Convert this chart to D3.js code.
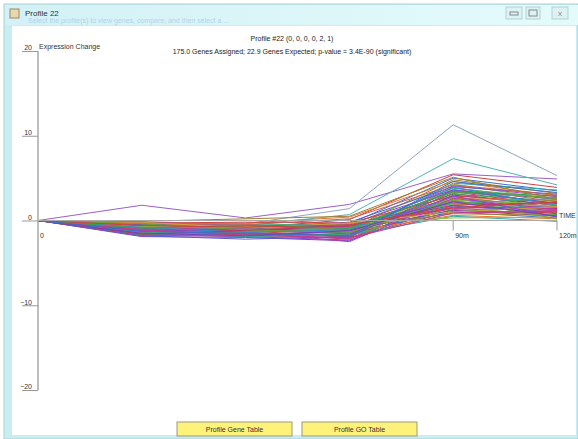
<!DOCTYPE html>
<html>
<head>
<meta charset="utf-8">
<script src="https://cdn.jsdelivr.net/npm/d3@7/dist/d3.min.js"></script>
<style>
  body { margin: 0; background: #fff; }
  svg { display: block; font-family: "Liberation Sans", "DejaVu Sans", sans-serif; }
</style>
</head>
<body>
<div id="chart"></div>
<script>
// time points of the profile (only some are labelled in the window)
const timeLabels = ["0", "", "", "", "90m", "120m"];
const yTicks = [-20, -10, 0, 10, 20];

// expression change of each gene at each time point
const genes = [
    [0, 1.8, 0.3, 1.9, 5.5, 4.9],
    [0, -0.2, -0.4, 1.4, 11.3, 5.3],
    [0, -0.3, -0.6, 0.7, 7.3, 4.2],
    [0, -0.6, -0.9, 0.1, 5.4, 3.9],
    [0, -0.8, -1.1, -0.4, 5.0, 3.5],
    [0, -1.2, -1.4, -1.0, 4.8, 3.2],
    [0, -0.5, -0.3, 0.4, 4.6, 2.9],
    [0, -1.5, -1.7, -1.8, 4.4, 3.6],
    [0, -0.9, -1.0, -0.6, 4.3, 2.4],
    [0, -1.1, -1.6, -1.3, 4.1, 2.8],
    [0, -0.4, -0.8, -0.2, 4.0, 3.1],
    [0, -1.7, -1.9, -2.0, 3.9, 2.2],
    [0, -0.7, -0.5, -0.9, 3.8, 2.6],
    [0, -1.3, -1.2, -1.5, 3.7, 1.9],
    [0, -0.2, -0.6, -0.4, 3.6, 2.5],
    [0, -1.0, -1.3, -1.1, 3.5, 2.0],
    [0, -1.6, -1.5, -2.2, 3.4, 1.7],
    [0, -0.6, -1.0, -0.7, 3.3, 2.7],
    [0, -1.4, -1.8, -1.6, 3.2, 1.5],
    [0, -0.8, -0.7, -1.2, 3.1, 2.3],
    [0, -1.9, -2.0, -2.4, 3.0, 1.8],
    [0, -0.3, -0.2, -0.3, 2.9, 2.1],
    [0, -1.2, -1.5, -1.9, 2.8, 1.4],
    [0, -0.9, -1.2, -0.8, 2.7, 1.6],
    [0, -1.5, -1.1, -1.4, 2.6, 2.4],
    [0, -0.5, -0.9, -1.0, 2.5, 1.2],
    [0, -1.1, -1.4, -1.7, 2.4, 1.9],
    [0, -1.8, -1.6, -2.1, 2.3, 1.1],
    [0, -0.7, -1.1, -0.5, 2.2, 1.5],
    [0, -1.3, -1.7, -1.3, 2.1, 0.9],
    [0, -0.4, -0.4, -0.6, 2.0, 1.3],
    [0, -1.0, -0.8, -1.5, 1.9, 1.7],
    [0, -1.6, -1.9, -2.3, 1.8, 0.8],
    [0, -0.6, -1.3, -0.9, 1.7, 1.0],
    [0, -1.4, -1.0, -1.2, 1.6, 1.4],
    [0, -0.8, -1.5, -1.8, 1.5, 0.6],
    [0, -1.2, -0.6, -0.7, 1.4, 1.2],
    [0, -1.7, -1.8, -1.6, 1.3, 0.7],
    [0, -0.5, -1.0, -1.1, 1.2, 0.5],
    [0, -1.1, -1.2, -2.0, 1.1, 0.9],
    [0, -0.9, -1.6, -1.4, 1.0, 0.3],
    [0, -1.5, -1.4, -0.8, 0.8, 0.6],
    [0, -0.3, -0.7, -1.3, 0.6, 0.2],
    [0, -1.3, -1.9, -1.7, 0.5, -0.1],
    [0, -0.7, -0.9, -0.4, 0.3, 0.4],
    [0, -1.0, -1.3, -2.5, 2.6, 1.3],
    [0, -1.8, -2.2, -1.9, 3.6, 2.0],
    [0, -0.6, -0.5, 0.2, 4.2, 3.0],
    [0, -1.4, -1.3, -1.0, 2.0, 2.6],
    [0, -0.2, -0.9, -0.3, 1.0, 1.6],
    [0, -1.2, -1.0, -1.6, 2.9, 0.4],
    [0, -0.8, -1.4, -1.1, 3.9, 1.8],
    [0, -1.6, -1.2, -0.6, 1.8, 2.1],
    [0, -0.4, -1.1, -1.4, 2.4, 0.2],
    [0, -1.1, -1.7, -2.1, 0.9, 1.1],
    [0, -0.9, -0.6, -0.9, 3.4, 2.9],
    [0, -1.5, -1.8, -1.2, 2.2, 0.5],
    [0, -0.6, -0.8, -0.5, 1.5, 2.2],
    [0, -1.3, -1.5, -1.8, 4.6, 3.3],
    [0, -0.1, 0.2, 0.5, 5.1, 2.5]
];

const topColors = ["#9a5fc8", "#8fa3c4", "#4fb3b8"];
const colors = ["#c83a8c", "#3aa04a", "#7a3fc0", "#d04040", "#3a70c8", "#a08030",
    "#e07830", "#30a8a0", "#8cc040", "#b040b0", "#605ad0", "#c86060",
    "#40b070", "#d0a040", "#9040e0", "#2f8fcf", "#c03070", "#70a030"];

const title = "Profile #22 (0, 0, 0, 0, 2, 1)";
const subtitle = "175.0 Genes Assigned; 22.9 Genes Expected; p-value = 3.4E-90 (significant)";
const buttons = ["Profile Gene Table", "Profile GO Table"];

const W = 578, H = 439;
const svg = d3.select("#chart").append("svg")
    .attr("width", W)
    .attr("height", H);

// window frame
svg.append("rect").attr("x", 4).attr("y", 4).attr("width", W - 4).attr("height", H - 4)
    .attr("fill", "#c9eef1").attr("stroke", "#a9cfd6");
const grad = svg.append("defs").append("linearGradient").attr("id", "tb")
    .attr("x1", 0).attr("x2", 1);
grad.append("stop").attr("offset", "0%").attr("stop-color", "#d3f1f6");
grad.append("stop").attr("offset", "100%").attr("stop-color", "#e4fbfb");
svg.append("rect").attr("x", 5).attr("y", 5).attr("width", W - 5).attr("height", 20)
    .attr("fill", "url(#tb)");
svg.append("rect").attr("x", 12).attr("y", 26).attr("width", W - 14).attr("height", H - 30)
    .attr("fill", "#fff");

// title bar
svg.append("rect").attr("x", 10).attr("y", 9).attr("width", 9).attr("height", 9)
    .attr("fill", "#e8d8b0").attr("stroke", "#a08860");
svg.append("text").attr("x", 25).attr("y", 16).attr("font-size", 8).attr("fill", "#333")
    .text("Profile 22");
svg.append("text").attr("x", 28).attr("y", 23).attr("font-size", 7).attr("fill", "#9cc0e4")
    .attr("opacity", 0.6)
    .text("Select the profile(s) to view genes, compare, and then select a ...");
[[506, 16], [526, 14], [552, 16]].forEach(([bx, bw]) => {
    svg.append("rect").attr("x", bx).attr("y", 7).attr("width", bw).attr("height", 12)
        .attr("fill", "#dcf3f5").attr("stroke", "#b5cfd4");
});
svg.append("rect").attr("x", 510).attr("y", 12).attr("width", 8).attr("height", 3)
    .attr("fill", "none").attr("stroke", "#888");
svg.append("rect").attr("x", 529).attr("y", 10).attr("width", 8).attr("height", 6)
    .attr("fill", "none").attr("stroke", "#888");
svg.append("text").attr("x", 558).attr("y", 16).attr("font-size", 8).attr("fill", "#888").text("x");

// scales
const x = d3.scaleLinear().domain([0, timeLabels.length - 1]).range([38, 557]);
const y = d3.scaleLinear().domain([-20, 20]).range([390, 51]);

// titles
svg.append("text").attr("x", 292).attr("y", 41).attr("text-anchor", "middle")
    .attr("font-size", 7).attr("fill", "#222").text(title);
svg.append("text").attr("x", 292).attr("y", 54).attr("text-anchor", "middle")
    .attr("font-size", 7).attr("fill", "#222").text(subtitle);
svg.append("text").attr("x", 39).attr("y", 49).attr("font-size", 7).attr("fill", "#333")
    .text("Expression Change");

// gene lines
const line = d3.line()
    .x((d, i) => x(i))
    .y(d => y(d));

svg.append("g").selectAll("path")
    .data(genes)
    .join("path")
    .attr("d", line)
    .attr("fill", "none")
    .attr("stroke", (d, i) => i < topColors.length ? topColors[i] : colors[i % colors.length])
    .attr("stroke-width", 1);

// y axis
const yAxis = svg.append("g")
    .attr("transform", "translate(" + x(0) + ",0)")
    .call(d3.axisLeft(y).tickValues(yTicks).tickSize(16).tickFormat(d3.format("d")));
yAxis.select(".domain").attr("stroke", "#a8a8a8").attr("stroke-width", 1.5)
    .attr("d", "M0," + y(20) + "V" + y(-20));
yAxis.selectAll(".tick line").attr("stroke", "#999");
yAxis.selectAll(".tick text").attr("x", -6).attr("dy", "-0.15em")
    .attr("font-size", 7).attr("fill", "#333");

// x axis (time)
svg.append("line").attr("x1", x(0)).attr("x2", x(timeLabels.length - 1))
    .attr("y1", y(0)).attr("y2", y(0)).attr("stroke", "#a8a8a8").attr("stroke-width", 1.2);
const xt = svg.append("g").selectAll("g")
    .data(timeLabels.map((t, i) => ({ t, i })).filter(d => d.t !== ""))
    .join("g")
    .attr("transform", d => "translate(" + x(d.i) + "," + y(0) + ")");
xt.filter(d => d.i > 0).append("line").attr("y2", 10).attr("stroke", "#999");
xt.append("text").attr("x", 2).attr("y", 17).attr("font-size", 7).attr("fill", "#333")
    .text(d => d.t);
svg.append("text").attr("x", 559).attr("y", y(0) - 3).attr("font-size", 7).attr("fill", "#333")
    .text("TIME");

// buttons
const bg = svg.append("g").selectAll("g")
    .data(buttons)
    .join("g")
    .attr("transform", (d, i) => "translate(" + (177 + i * 125) + ",422)");
bg.append("rect").attr("width", 115).attr("height", 14)
    .attr("fill", "#fff27a").attr("stroke", "#9a9a80");
bg.append("text").attr("x", 57.5).attr("y", 10).attr("text-anchor", "middle")
    .attr("font-size", 7).attr("fill", "#333").text(d => d);
</script>
</body>
</html>
